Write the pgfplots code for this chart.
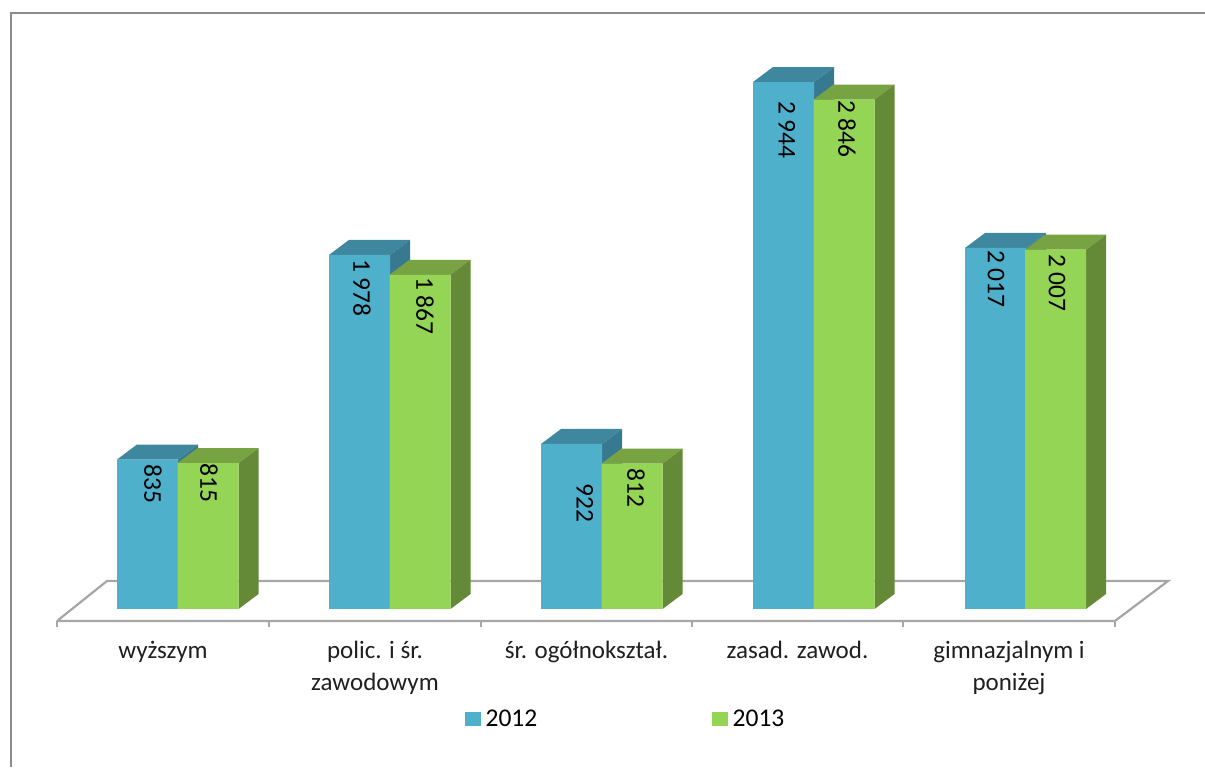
\documentclass[border=0pt]{standalone}
\usepackage{pgfplots}
\pgfplotsset{compat=1.18}
\usepackage{fontspec}
\setmainfont{Carlito}
\definecolor{blF}{HTML}{4FB0CB}
\definecolor{blT}{HTML}{3F879E}
\definecolor{blS}{HTML}{377A90}
\definecolor{grF}{HTML}{95D555}
\definecolor{grT}{HTML}{78A342}
\definecolor{grS}{HTML}{648A38}
\definecolor{flr}{HTML}{A6A6A6}
\definecolor{frm}{HTML}{8C8C8C}
% top and side faces of a bar: left edge (px), width (px), value, colours
\newcommand{\cuboid}[5]{%
  \pgfmathsetmacro\xr{#1+#2}%
  \pgfmathsetmacro\xa{#1+20}%
  \pgfmathsetmacro\xb{#1+#2+20}%
  \pgfmathsetmacro\yt{#3+83.8}%
  \addplot[fill=#4,draw=none,forget plot] coordinates {(#1,#3) (\xa,\yt) (\xb,\yt) (\xr,#3) (#1,#3)};
  \addplot[fill=#5,draw=none,forget plot] coordinates {(\xr,0) (\xb,83.8) (\xb,\yt) (\xr,#3) (\xr,0)};
}
\newcommand{\vlabel}[3]{\node[rotate=-90,font=\fontsize{25.5}{28}\selectfont,inner sep=0pt] at (axis cs:#1,{(609-#2)/0.179}) {#3};}
\pgfplotstableread{
x y
147.5 835
359.5 1978
571.5 922
783.5 2944
995.5 2017
}\blue
\pgfplotstableread{
x y
208 815
420 1867
632 812
844 2846
1055.5 2007
}\green
\begin{document}
\begin{tikzpicture}
\begin{axis}[
  scale only axis, width=1205pt, height=767pt,
  xmin=0, xmax=1205, ymin=-882.7, ymax=3402.2,
  axis line style={draw=none},
  tick style={draw=none},
  ytick=\empty,
  xtick={163,375,586.5,797.5,1009},
  xticklabels={wyższym,{polic. i śr.\\zawodowym},śr. ogółnokształ.,zasad. zawod.,{gimnazjalnym i\\poniżej}},
  x tick label style={align=center,anchor=north,yshift=126pt,inner sep=0pt,
     font=\fontsize{25}{32}\selectfont,text=black!88},
  legend style={draw=none,fill=none,at={(axis cs:465,-612)},anchor=west,
     legend columns=2,font=\fontsize{25.5}{28}\selectfont,
     /tikz/every odd column/.style={column sep=3pt},
     /tikz/every even column/.style={column sep=173pt},inner sep=0pt},
]
% frame
\addplot[draw=frm,line width=2pt,forget plot] coordinates {(11,-882.7) (11,3329)};
\addplot[draw=frm,line width=2pt,forget plot] coordinates {(10,3329) (1205,3329)};
% floor
\addplot[draw=flr,line width=2.2pt,forget plot] coordinates {(57,-67) (1115,-67) (1168,156.4) (107,156.4) (57,-67)};
\addplot[draw=flr,line width=2.2pt,forget plot,unbounded coords=jump] coordinates {
 (57,-67) (57,-100) (57,nan)
 (269,-67) (269,-100) (269,nan)
 (481,-67) (481,-100) (481,nan)
 (692,-67) (692,-100) (692,nan)
 (903,-67) (903,-100) (903,nan)
 (1115,-67) (1115,-100)};
% depth faces
\cuboid{117}{61}{835}{blT}{blS}
\cuboid{329}{61}{1978}{blT}{blS}
\cuboid{541}{61}{922}{blT}{blS}
\cuboid{753}{61}{2944}{blT}{blS}
\cuboid{965}{61}{2017}{blT}{blS}
\cuboid{177.5}{61}{815}{grT}{grS}
\cuboid{389.5}{61}{1867}{grT}{grS}
\cuboid{601.5}{61}{812}{grT}{grS}
\cuboid{813.5}{61}{2846}{grT}{grS}
\cuboid{1025}{61}{2007}{grT}{grS}
% fronts
\addplot[ybar,bar width=61pt,fill=blF,draw=none,forget plot] table[x=x,y=y]{\blue};
\addplot[ybar,bar width=61pt,fill=grF,draw=none,forget plot] table[x=x,y=y]{\green};
\addlegendimage{legend image code/.code={\fill[blF] (0pt,-6.5pt) rectangle (15pt,6.5pt);}}
\addlegendentry{2012}
\addlegendimage{legend image code/.code={\fill[grF] (0pt,-6.5pt) rectangle (15pt,6.5pt);}}
\addlegendentry{2013}
\vlabel{153}{484}{835}
\vlabel{209}{483}{815}
\vlabel{362}{288}{1 978}
\vlabel{425}{306}{1 867}
\vlabel{585}{503}{922}
\vlabel{636}{488}{812}
\vlabel{787}{130}{2 944}
\vlabel{847}{129}{2 846}
\vlabel{996}{279}{2 017}
\vlabel{1057}{283}{2 007}
\end{axis}
\end{tikzpicture}
\end{document}
